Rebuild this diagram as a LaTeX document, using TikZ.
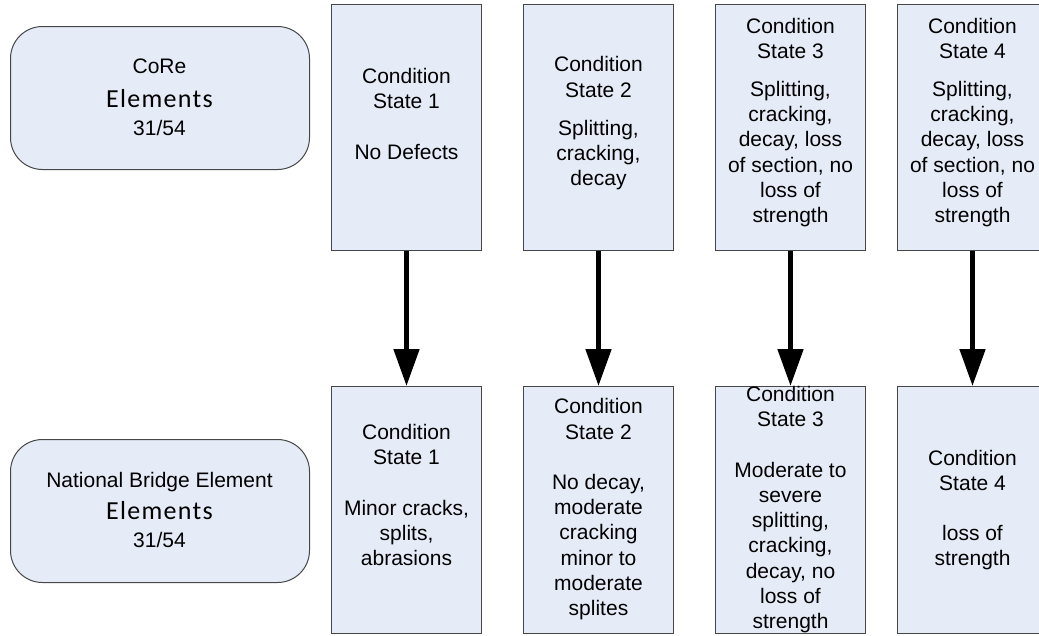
\documentclass[tikz,border=0pt]{standalone}
\usepackage{fontspec}
\setmainfont{Liberation Sans}
\newfontfamily\calfont{Carlito}[LetterSpace=5]
\usetikzlibrary{arrows.meta}
\definecolor{boxfill}{RGB}{230,236,247}
\definecolor{boxline}{RGB}{70,70,70}
\begin{document}
\begin{tikzpicture}[x=1pt,y=-1pt,
  statebox/.style={draw=boxline, fill=boxfill, line width=1pt,
    minimum width=150pt, minimum height=246pt, inner sep=0pt, anchor=north west},
  elembox/.style={draw=boxline, fill=boxfill, line width=1pt, rounded corners=32pt,
    minimum width=299pt, minimum height=143pt, inner sep=0pt, anchor=north west},
  boxtext/.style={anchor=north, align=center, inner sep=0pt,
    font=\fontsize{21}{25.2}\selectfont},
  flow/.style={line width=5pt, -{Triangle[width=25pt,length=37pt]}}]
\useasboundingbox (0,0) rectangle (1039,635);
\clip (0,0) rectangle (1039,635);
\newcommand\elemword{\calfont\fontsize{26}{26}\selectfont Elements}

% element family boxes
\node[elembox] (core) at (10,26) {};
\node[elembox] (nbe) at (10,439) {};
\node[boxtext] (coretxt) at (159.5,59) {CoRe\\[8pt]{\elemword}\\[3pt]31/54};
\node[boxtext] (nbetxt) at (159.5,471.7) {National Bridge Element\\[7pt]{\elemword}\\[3pt]31/54};

% CoRe condition states
\node[statebox] (c1) at (331,4) {};
\node[statebox] (c2) at (523,4) {};
\node[statebox] (c3) at (715,4) {};
\node[statebox] (c4) at (897,4) {};
\node[boxtext] (c1txt) at (c1.center |- 0,68) {Condition\\State 1\\[25.2pt]No Defects};
\node[boxtext] (c2txt) at (c2.center |- 0,56.4) {Condition\\State 2\\[13pt]Splitting,\\cracking,\\decay};
\node[boxtext] (c3txt) at (c3.center |- 0,17.7) {Condition\\State 3\\[13pt]Splitting,\\cracking,\\decay, loss\\of section, no\\loss of\\strength};
\node[boxtext] (c4txt) at (c4.center |- 0,17.7) {Condition\\State 4\\[13pt]Splitting,\\cracking,\\decay, loss\\of section, no\\loss of\\strength};

% National Bridge Element condition states
\node[statebox, minimum height=247pt] (n1) at (331,386) {};
\node[statebox, minimum height=247pt] (n2) at (523,386) {};
\node[statebox, minimum height=247pt] (n3) at (715,386) {};
\node[statebox, minimum height=247pt] (n4) at (897,386) {};
\node[boxtext] (n1txt) at (n1.center |- 0,424) {Condition\\State 1\\[25.2pt]Minor cracks,\\splits,\\abrasions};
\node[boxtext] (n2txt) at (n2.center |- 0,398.4) {Condition\\State 2\\[25.2pt]No decay,\\moderate\\cracking\\minor to\\moderate\\splites};
\node[boxtext] (n3txt) at (n3.center |- 0,386.2) {Condition\\State 3\\[25.2pt]Moderate to\\severe\\splitting,\\cracking,\\decay, no\\loss of\\strength};
\node[boxtext] (n4txt) at (n4.center |- 0,449.7) {Condition\\State 4\\[25.2pt]loss of\\strength};

% mapping arrows
\draw[flow] (c1.south) -- (n1.north);
\draw[flow] (c2.south) -- (n2.north);
\draw[flow] (c3.south) -- (n3.north);
\draw[flow] (c4.south) -- (n4.north);
\end{tikzpicture}
\end{document}
